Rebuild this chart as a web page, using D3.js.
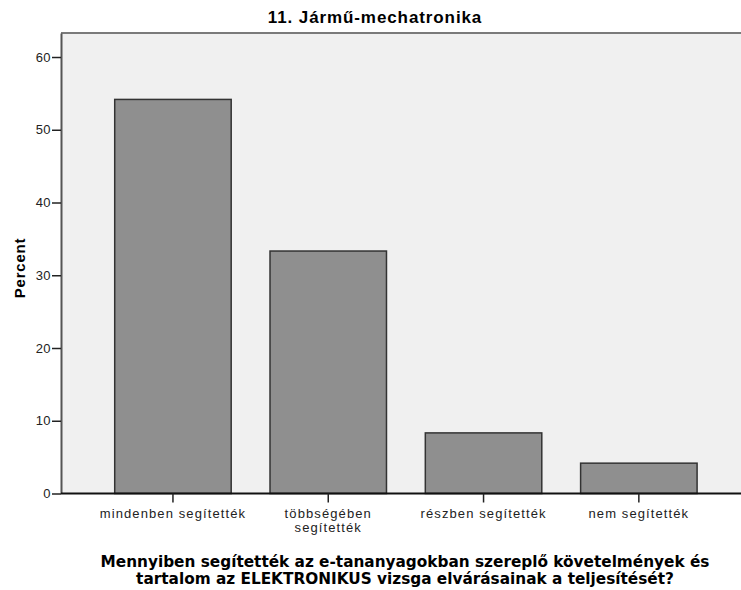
<!DOCTYPE html>
<html>
<head>
<meta charset="utf-8">
<script src="https://cdn.jsdelivr.net/npm/d3@7"></script>
<style>
  html, body { margin: 0; padding: 0; background: #fff; }
  svg { display: block; }
</style>
</head>
<body>
<svg id="chart" width="741" height="590"></svg>
<script>
const chartTitle = "11. Jármű-mechatronika";
const yTitle = "Percent";
const xTitleLines = [
  "Mennyiben segítették az e-tananyagokban szereplő követelmények és",
  "tartalom az ELEKTRONIKUS vizsga elvárásainak a teljesítését?"
];
const categories = ["mindenben segítették", "többségében segítették", "részben segítették", "nem segítették"];
const tickLabelLines = [["mindenben segítették"], ["többségében", "segítették"], ["részben segítették"], ["nem segítették"]];
const percents = [54.17, 33.33, 8.33, 4.17];
const yTicks = [0, 10, 20, 30, 40, 50, 60];

const svg = d3.select("#chart");
const plot = { left: 61, right: 750, top: 33, bottom: 493.5 };

const y = d3.scaleLinear().domain([0, 63.3]).range([plot.bottom, plot.top]);
const x = d3.scaleBand().domain(categories).range([95.3, 716.5]).paddingInner(0.25).paddingOuter(0.125);

const sans = "Liberation Sans, Arial, sans-serif";

// plot background
svg.append("rect")
  .attr("x", plot.left).attr("y", plot.top)
  .attr("width", plot.right - plot.left).attr("height", plot.bottom - plot.top)
  .attr("fill", "#f0f0f0");

// top frame line
svg.append("line")
  .attr("x1", plot.left).attr("x2", plot.right)
  .attr("y1", plot.top).attr("y2", plot.top)
  .attr("stroke", "#7a7a7a").attr("stroke-width", 2);

// bars
svg.append("g").selectAll("rect")
  .data(percents)
  .join("rect")
  .attr("x", (d, i) => x(categories[i]))
  .attr("y", d => y(d))
  .attr("width", x.bandwidth())
  .attr("height", d => y(0) - y(d))
  .attr("fill", "#8f8f8f")
  .attr("stroke", "#333")
  .attr("stroke-width", 1.5);

// y axis
const yAxis = svg.append("g")
  .attr("transform", `translate(${plot.left},0)`)
  .call(d3.axisLeft(y).tickValues(yTicks).tickSize(9).tickPadding(1).tickSizeOuter(0));
yAxis.select(".domain").attr("stroke", "#555").attr("stroke-width", 2);
yAxis.selectAll(".tick line").attr("stroke", "#222").attr("stroke-width", 1.5);
yAxis.selectAll(".tick text")
  .attr("font-family", sans)
  .attr("font-size", 13).attr("letter-spacing", 0.4).attr("fill", "#222");

// x axis
const xAxis = svg.append("g")
  .attr("transform", `translate(0,${plot.bottom})`)
  .call(d3.axisBottom(x).tickSize(9).tickSizeOuter(0).tickFormat(""));
xAxis.select(".domain").attr("d", `M${plot.left},0H${plot.right}`).attr("stroke", "#111").attr("stroke-width", 2);
xAxis.selectAll(".tick line").attr("stroke", "#222").attr("stroke-width", 1.5);
xAxis.selectAll(".tick text").remove();
xAxis.selectAll(".tick").each(function(d, i) {
  const t = d3.select(this).append("text")
    .attr("text-anchor", "middle")
    .attr("font-family", sans)
    .attr("font-size", 13)
    .attr("letter-spacing", 1.1)
    .attr("fill", "#222");
  tickLabelLines[i].forEach((line, j) => {
    t.append("tspan").attr("x", 0).attr("y", 24.5 + j * 14).text(line);
  });
});

// chart title
svg.append("text")
  .attr("x", 375).attr("y", 23)
  .attr("text-anchor", "middle")
  .attr("font-family", sans)
  .attr("font-weight", "bold").attr("font-size", 17)
  .attr("letter-spacing", 0.9)
  .attr("fill", "#000")
  .text(chartTitle);

// y title
svg.append("text")
  .attr("transform", "translate(25,268) rotate(-90)")
  .attr("text-anchor", "middle")
  .attr("font-family", sans)
  .attr("font-weight", "bold").attr("font-size", 15)
  .attr("letter-spacing", 0.8)
  .attr("fill", "#000")
  .text(yTitle);

// x title
const xt = svg.append("text")
  .attr("text-anchor", "middle")
  .attr("font-family", "DejaVu Sans, sans-serif")
  .attr("font-weight", "bold").attr("font-size", 15.3)
  .attr("fill", "#000");
xTitleLines.forEach((line, j) => {
  xt.append("tspan").attr("x", 405).attr("y", 567 + j * 17).text(line);
});
</script>
</body>
</html>
